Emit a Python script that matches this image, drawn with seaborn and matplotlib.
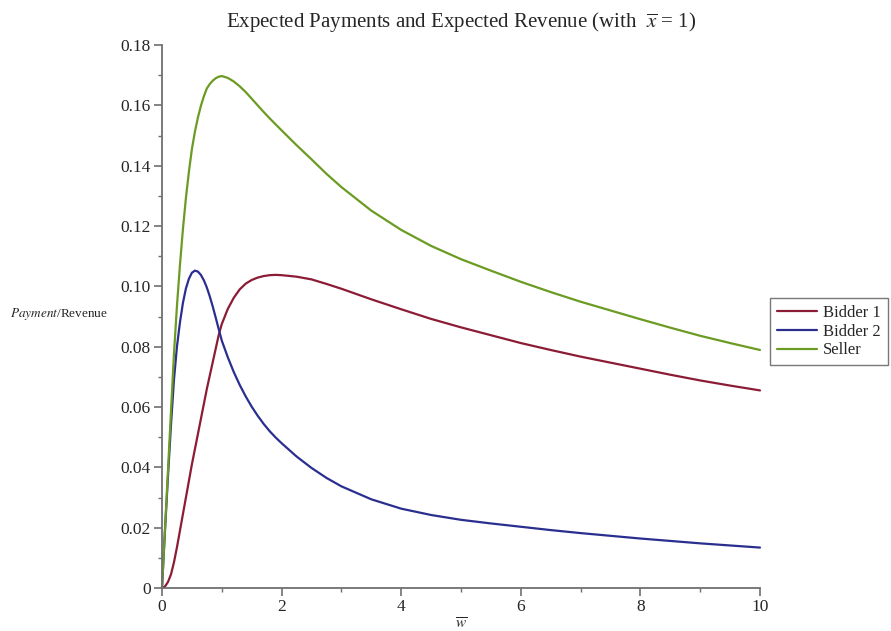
import matplotlib
matplotlib.use("Agg")
import matplotlib.pyplot as plt
import seaborn as sns
import pandas as pd
from matplotlib.ticker import MultipleLocator

# ---- data ----
w_bar = [0, 0.05, 0.1, 0.15, 0.2, 0.25, 0.3, 0.35, 0.4, 0.45, 0.5, 0.55, 0.6, 0.65,
         0.7, 0.75, 0.8, 0.85, 0.9, 0.95, 1.0,
         1.1, 1.2, 1.3, 1.4, 1.5, 1.6, 1.7, 1.8, 1.9, 2.0,
         2.25, 2.5, 2.75, 3.0, 3.5, 4.0, 4.5, 5.0, 5.5, 6.0, 6.5, 7.0, 7.5, 8.0,
         8.5, 9.0, 9.5, 10.0]

bidder1 = [0, 0.0005, 0.002, 0.0045, 0.0085, 0.0135, 0.019, 0.0245, 0.030, 0.0355,
           0.041, 0.046, 0.051, 0.056, 0.061, 0.066, 0.0705, 0.075, 0.0795, 0.084, 0.0875,
           0.0925, 0.0962, 0.0990, 0.1009, 0.1021, 0.1029, 0.1034, 0.1037, 0.1038, 0.1037,
           0.1032, 0.1023, 0.1008, 0.0992, 0.0957, 0.0924, 0.0892, 0.0864, 0.0838, 0.0812,
           0.0789, 0.0767, 0.0747, 0.0727, 0.0707, 0.0688, 0.0671, 0.0655]

bidder2 = [0, 0.019, 0.037, 0.054, 0.069, 0.080, 0.088, 0.0945, 0.0993, 0.1025,
           0.1045, 0.1052, 0.1049, 0.1038, 0.1020, 0.0996, 0.0966, 0.0932, 0.0895, 0.0857, 0.0820,
           0.0765, 0.0716, 0.0673, 0.0635, 0.0601, 0.0571, 0.0544, 0.0520, 0.0499, 0.0480,
           0.0436, 0.0398, 0.0365, 0.0337, 0.0294, 0.0263, 0.0242, 0.0226, 0.0214, 0.0203,
           0.0192, 0.0182, 0.0173, 0.0164, 0.0156, 0.0148, 0.0141, 0.0134]

seller = [0, 0.0195, 0.039, 0.0585, 0.0775, 0.0935, 0.107, 0.119, 0.1293, 0.138,
          0.1455, 0.1512, 0.1559, 0.1598, 0.163, 0.1656, 0.1671, 0.1682, 0.169, 0.1695, 0.1697,
          0.1691, 0.1679, 0.1663, 0.1644, 0.1622, 0.1600, 0.1578, 0.1557, 0.1537, 0.1517,
          0.1468, 0.1421, 0.1373, 0.1329, 0.1251, 0.1187, 0.1134, 0.1090, 0.1052, 0.1015,
          0.0981, 0.0949, 0.0920, 0.0891, 0.0863, 0.0836, 0.0812, 0.0789]

series_names = ["Bidder 1", "Bidder 2", "Seller"]
series_colors = ["#8c1c35", "#2a2f8f", "#6b9b22"]

title_text = r"Expected Payments and Expected Revenue (with  $\overline{x}$ = 1)"
x_ticks = [0, 2, 4, 6, 8, 10]
y_ticks = [0, 0.02, 0.04, 0.06, 0.08, 0.10, 0.12, 0.14, 0.16, 0.18]
y_tick_labels = ["0", "0.02", "0.04", "0.06", "0.08", "0.10", "0.12", "0.14", "0.16", "0.18"]

df = pd.DataFrame({
    "w": w_bar * 3,
    "value": bidder1 + bidder2 + seller,
    "series": [series_names[0]] * len(w_bar) + [series_names[1]] * len(w_bar)
              + [series_names[2]] * len(w_bar),
})

sns.set_style("white")
plt.rcParams["font.family"] = ["Liberation Serif", "DejaVu Serif"]
plt.rcParams["mathtext.fontset"] = "stix"

fig = plt.figure(figsize=(8.91, 6.31), dpi=100)
ax = fig.add_axes([162 / 891, 1 - 588 / 631, (760 - 162) / 891, (588 - 45) / 631])

sns.lineplot(data=df, x="w", y="value", hue="series", hue_order=series_names,
             palette=dict(zip(series_names, series_colors)), linewidth=1.6,
             ax=ax, legend=True, clip_on=False)

ax.set_xlim(0, 10)
ax.set_ylim(0, 0.18)

for s in ["top", "right"]:
    ax.spines[s].set_visible(False)
for s in ["left", "bottom"]:
    ax.spines[s].set_color("#707070")
    ax.spines[s].set_linewidth(1.3)

ax.set_xticks(x_ticks)
ax.set_xticklabels([str(t) for t in x_ticks])
ax.set_yticks(y_ticks)
ax.set_yticklabels(y_tick_labels)
ax.xaxis.set_minor_locator(MultipleLocator(1))
ax.yaxis.set_minor_locator(MultipleLocator(0.01))
ax.tick_params(axis="both", which="major", direction="out", length=6, width=1.2,
               color="#707070", labelsize=12.5, pad=2, left=True, bottom=True)
ax.tick_params(axis="both", which="minor", direction="out", length=3, width=1.0,
               color="#707070", left=True, bottom=True)

ax.set_title(title_text, fontsize=15, pad=13)

ax.set_xlabel(r"$\overline{w}$", fontsize=11, va="center")
ax.xaxis.set_label_coords(0.5, -0.066)
ax.set_ylabel(r"$\mathit{Payment}$/Revenue", fontsize=9.5, rotation=0, ha="left", va="center")
ax.yaxis.set_label_coords(-0.254, 0.505)

leg = ax.legend(loc="upper left", bbox_to_anchor=(1.0167, 0.534), frameon=True,
                fontsize=12, handlelength=2.4, borderpad=0.4, labelspacing=0.17,
                handletextpad=0.4, borderaxespad=0, fancybox=False)
leg.get_frame().set_edgecolor("#555555")
leg.get_frame().set_linewidth(1.0)
for line in leg.get_lines():
    line.set_linewidth(1.6)

fig.savefig("out.png", dpi=100)
